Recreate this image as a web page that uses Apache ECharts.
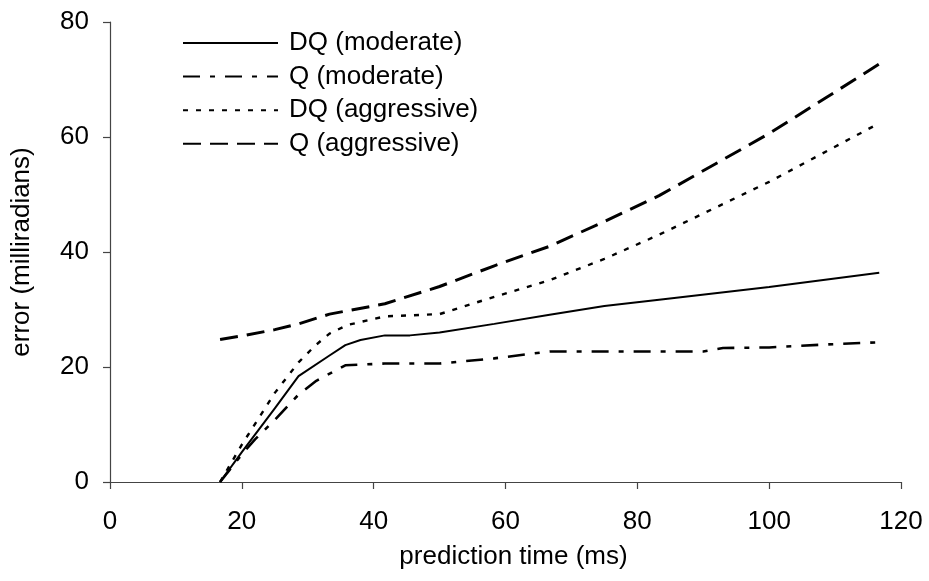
<!DOCTYPE html>
<html>
<head>
<meta charset="utf-8">
<script src="https://cdn.jsdelivr.net/npm/echarts@6/dist/echarts.min.js"></script>
<style>
  html, body { margin: 0; padding: 0; background: #fff; }
  #chart { width: 929px; height: 581px; }
</style>
</head>
<body>
<div id="chart"></div>
<script>
// Prediction error vs. prediction time for four predictor configurations
const seriesNames = ['DQ (moderate)', 'Q (moderate)', 'DQ (aggressive)', 'Q (aggressive)'];

const dqModerateX = [16.7, 20, 25, 28.6, 33.3, 35.7, 38, 41.7, 45.5, 50, 58.3, 66.7, 75, 83.3, 100, 116.7];
const dqModerateY = [0, 5.2, 12.8, 18.4, 22.0, 23.8, 24.7, 25.5, 25.5, 26.0, 27.5, 29.1, 30.6, 31.7, 33.9, 36.4];

const qModerateX = [16.7, 20, 22, 25, 28.6, 31.3, 35.7, 41.7, 50, 58.3, 66.7, 75, 83.3, 90, 93, 100, 108.3, 116.7];
const qModerateY = [0, 4.8, 7.4, 10.8, 15.2, 17.6, 20.3, 20.6, 20.6, 21.5, 22.7, 22.7, 22.7, 22.7, 23.3, 23.4, 23.9, 24.3];

const dqAggressiveX = [16.7, 20, 25, 28.6, 31.1, 33.3, 36, 41.7, 50, 58.3, 66.7, 75, 83.3, 100, 116.7];
const dqAggressiveY = [0, 6.5, 15.5, 20.8, 23.7, 25.8, 27.3, 28.8, 29.2, 32.2, 35.1, 38.8, 43.0, 52.2, 62.4];

const qAggressiveX = [16.7, 20, 25, 28.6, 33.3, 41.7, 50, 58.3, 66.7, 75, 83.3, 100, 108.3, 116.7];
const qAggressiveY = [24.8, 25.4, 26.5, 27.5, 29.2, 31.0, 34.0, 37.6, 41.0, 45.3, 49.8, 60.6, 66.6, 72.7];

const xTicks = [0, 20, 40, 60, 80, 100, 120];
const yTicks = [0, 20, 40, 60, 80];

const FONT = '"Liberation Sans", Arial, sans-serif';
const FS = 26;

function pairs(xs, ys) { return xs.map((x, i) => [x, ys[i]]); }

const styles = [
  { width: 2, type: 'solid' },
  { width: 2.6, type: [17, 10, 5, 10] },
  { width: 2.4, type: [5, 8] },
  { width: 3, type: [18, 9] }
];
const dataSets = [
  pairs(dqModerateX, dqModerateY),
  pairs(qModerateX, qModerateY),
  pairs(dqAggressiveX, dqAggressiveY),
  pairs(qAggressiveX, qAggressiveY)
];

const chart = echarts.init(document.getElementById('chart'), null, { renderer: 'canvas' });
chart.setOption({
  animation: false,
  backgroundColor: '#fff',
  textStyle: { fontFamily: FONT, color: '#000' },
  grid: { left: 110, right: 28, top: 22, bottom: 99, containLabel: false },
  legend: {
    orient: 'vertical',
    left: 177,
    top: 25,
    itemWidth: 95,
    itemHeight: 14,
    itemGap: 7.6,
    itemStyle: { opacity: 0 },
    data: seriesNames,
    textStyle: { fontFamily: FONT, fontSize: FS, color: '#000', lineHeight: 26, padding: [0, 0, 0, 6] }
  },
  xAxis: {
    type: 'value',
    min: xTicks[0],
    max: xTicks[xTicks.length - 1],
    interval: 20,
    name: 'prediction time (ms)',
    nameLocation: 'middle',
    nameGap: 62,
    nameTextStyle: { fontFamily: FONT, fontSize: FS, color: '#000', padding: [0, 0, 0, 16] },
    axisLine: { show: true, lineStyle: { color: '#444', width: 1.2 } },
    axisTick: { show: true, inside: false, length: 7, lineStyle: { color: '#444', width: 1.2 } },
    axisLabel: { fontFamily: FONT, fontSize: FS, color: '#000', margin: 27, lineHeight: 26 },
    splitLine: { show: false }
  },
  yAxis: {
    type: 'value',
    min: yTicks[0],
    max: yTicks[yTicks.length - 1],
    interval: 20,
    name: 'error (milliradians)',
    nameLocation: 'middle',
    nameGap: 75,
    nameTextStyle: { fontFamily: FONT, fontSize: FS, color: '#000' },
    axisLine: { show: true, lineStyle: { color: '#444', width: 1.2 } },
    axisTick: { show: true, inside: false, length: 7, lineStyle: { color: '#444', width: 1.2 } },
    axisLabel: { fontFamily: FONT, fontSize: FS, color: '#000', margin: 21 },
    splitLine: { show: false }
  },
  series: seriesNames.map((name, i) => ({
    name: name,
    type: 'line',
    data: dataSets[i],
    symbol: 'none',
    symbolSize: 0,
    showSymbol: false,
    smooth: false,
    lineStyle: { color: '#000', width: styles[i].width, type: styles[i].type, cap: 'butt' },
    itemStyle: { color: '#000' },
    emphasis: { disabled: true }
  }))
});
</script>
</body>
</html>
